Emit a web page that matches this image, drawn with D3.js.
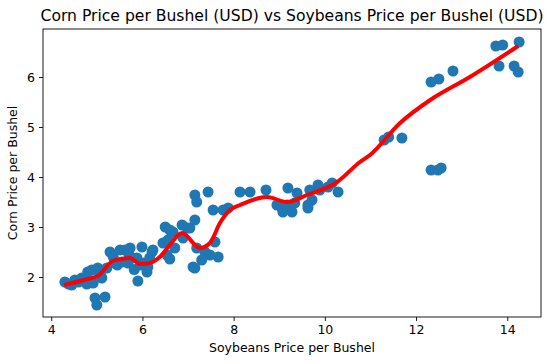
<!DOCTYPE html>
<html><head><meta charset="utf-8">
<script src="https://cdn.jsdelivr.net/npm/d3@7"></script>
<style>body{margin:0;background:#fff}svg{display:block}text{font-family:"DejaVu Sans",sans-serif}</style>
</head><body>
<svg id="c" width="553" height="364"></svg>
<script>
const soybeans = [4.30,4.38,4.45,4.52,4.60,4.67,4.74,4.78,4.80,4.89,4.92,5.02,5.11,4.96,5.00,5.18,5.08,
5.22,5.29,5.36,5.45,5.51,5.55,5.62,5.73,5.77,5.68,5.88,5.99,5.95,6.01,6.12,6.16,6.21,5.90,6.10,5.82,5.70,5.40,
6.45,6.54,6.56,6.50,6.60,6.67,6.60,6.71,6.87,6.98,7.04,7.15,6.89,7.15,7.19,7.44,7.55,7.77,7.88,7.19,7.37,7.48,7.59,7.66,7.30,7.11,7.15,6.23,
8.14,8.36,8.71,9.19,9.39,8.95,9.06,9.08,9.28,9.17,9.34,9.63,9.63,9.72,9.67,9.85,9.89,10.07,10.16,10.29,
11.30,11.40,11.69,12.33,12.48,12.55,12.33,12.50,12.81,13.75,13.90,14.26,13.82,14.15,14.24];
const corn = [1.90,1.86,1.84,1.94,1.90,1.98,1.94,1.86,2.10,2.14,1.88,2.18,1.98,1.58,1.44,1.60,2.05,
2.18,2.50,2.40,2.24,2.54,2.30,2.54,2.58,2.38,2.28,2.38,2.60,2.24,2.28,2.20,2.38,2.50,1.92,2.10,2.15,2.46,2.28,
2.68,2.44,2.74,3.00,2.94,2.90,2.36,2.58,3.04,2.98,2.98,3.14,2.78,3.64,3.50,3.70,3.34,3.34,3.38,2.58,2.50,2.44,2.70,2.40,2.34,2.20,2.18,2.54,
3.70,3.70,3.74,3.78,3.68,3.44,3.38,3.30,3.30,3.44,3.48,3.44,3.38,3.54,3.74,3.84,3.74,3.80,3.88,3.70,
4.74,4.80,4.78,4.14,4.14,4.18,5.90,5.96,6.12,6.62,6.64,6.70,6.22,6.22,6.10];
const trendX = [4.28,4.80,5.02,5.35,5.55,5.73,5.95,6.16,6.38,6.60,6.87,7.26,7.48,7.70,7.92,8.14,8.73,9.17,9.61,10.27,10.77,10.99,11.65,12.31,13.18,14.24];
const trendY = [1.84,1.96,2.02,2.32,2.36,2.38,2.26,2.28,2.40,2.64,2.88,2.58,2.68,3.08,3.34,3.44,3.60,3.50,3.64,3.90,4.30,4.44,5.08,5.54,6.00,6.62];
const xTicks = [4,6,8,10,12,14];
const yTicks = [2,3,4,5,6];
const title = "Corn Price per Bushel (USD) vs Soybeans Price per Bushel (USD)";
const xLabel = "Soybeans Price per Bushel";
const yLabel = "Corn Price per Bushel";

const svg = d3.select("#c");
const L=43,R=541,T=29,B=317;
const x = d3.scaleLinear().domain([3.82,14.74]).range([L,R]);
const y = d3.scaleLinear().domain([1.2,6.96]).range([B,T]);

const pts = soybeans.map((s,i)=>({s, c:corn[i]}));
svg.append("g").selectAll("circle").data(pts).join("circle")
  .attr("cx",d=>x(d.s)).attr("cy",d=>y(d.c)).attr("r",5.5).attr("fill","#1f77b4");

const tr = trendX.map((t,i)=>[t,trendY[i]]);
svg.append("path").datum(tr)
  .attr("d",d3.line().x(d=>x(d[0])).y(d=>y(d[1])).curve(d3.curveMonotoneX))
  .attr("fill","none").attr("stroke","#ff0000").attr("stroke-width",4).attr("stroke-linejoin","round").attr("stroke-linecap","butt");

const xa = svg.append("g").attr("transform",`translate(0,${B})`)
  .call(d3.axisBottom(x).tickValues(xTicks).tickFormat(d3.format("d")).tickSize(4).tickPadding(4));
const ya = svg.append("g").attr("transform",`translate(${L},0)`)
  .call(d3.axisLeft(y).tickValues(yTicks).tickFormat(d3.format("d")).tickSize(4).tickPadding(4));
[xa,ya].forEach(a=>{a.select(".domain").remove();
  a.selectAll("line").attr("stroke","#000").attr("stroke-width",0.9);
  a.selectAll("text").attr("font-family","DejaVu Sans").attr("font-size",12.5).attr("fill","#000");});

svg.append("rect").attr("x",L).attr("y",T).attr("width",R-L).attr("height",B-T)
  .attr("fill","none").attr("stroke","#000").attr("stroke-width",0.9);

svg.append("text").attr("x",(L+R)/2).attr("y",21).attr("text-anchor","middle").attr("font-size",15.6).text(title);
svg.append("text").attr("x",(L+R)/2).attr("y",352).attr("text-anchor","middle").attr("font-size",12.5).text(xLabel);
svg.append("text").attr("transform",`translate(17,${(T+B)/2}) rotate(-90)`).attr("text-anchor","middle").attr("font-size",12.5).text(yLabel);
</script>
</body></html>
